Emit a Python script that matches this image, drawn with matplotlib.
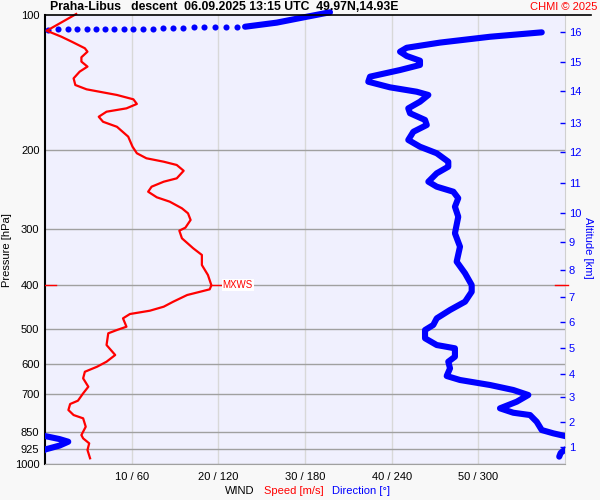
import numpy as np
import matplotlib
matplotlib.use('Agg')
import matplotlib.pyplot as plt
from matplotlib.ticker import NullLocator, FixedLocator
from matplotlib.lines import Line2D
import matplotlib.transforms as mtransforms

plt.rcParams['font.family'] = ['Liberation Sans', 'DejaVu Sans']

# wind speed profile (m/s) vs pressure (hPa)
spd_p = [99.5, 108.4, 111.8, 114.7, 118.6, 120.7, 124.2, 127.0, 130.3, 133.7,
         138.4, 143.2, 146.4, 150.7, 154.1, 157.8, 161.4, 164.2, 168.5, 172.9,
         177.4, 186.6, 196.5, 203.2, 208.5, 212.2, 215.8, 222.3, 231.1, 235.1,
         241.2, 247.5, 254.7, 260.5, 269.5, 276.5, 286.1, 297.6, 302.2, 314.3,
         330.8, 342.3, 360.4, 379.4, 400.0, 408.3, 413.4, 420.4, 435.0, 446.3,
         455.6, 463.4, 473.8, 494.6, 503.0, 511.6, 543.3, 571.8, 591.8, 607.3,
         623.1, 644.5, 672.9, 696.1, 722.8, 735.2, 758.2, 778.0, 791.2, 826.0,
         862.0, 876.8, 899.5, 930.8, 971.2]
spd_ms = [3.6, 0.2, 1.9, 3.1, 4.6, 4.9, 4.2, 4.2, 4.9, 4.0,
          3.3, 3.5, 4.8, 8.3, 10.2, 10.6, 9.4, 7.1, 6.2, 6.7,
          8.3, 9.6, 10.1, 10.6, 11.7, 13.7, 15.2, 16.0, 15.2, 13.7,
          12.3, 11.9, 12.9, 14.4, 15.8, 16.5, 16.8, 16.2, 15.5, 15.8,
          17.1, 18.1, 18.1, 18.8, 19.2, 19.0, 17.9, 16.4, 14.8, 13.7,
          12.1, 9.8, 9.0, 9.4, 8.3, 7.3, 7.1, 8.1, 7.1, 6.0,
          4.6, 4.4, 5.0, 4.4, 3.8, 2.9, 2.7, 3.3, 4.4, 4.7,
          4.2, 4.4, 5.1, 4.9, 5.2]

# wind direction (deg, unwrapped) vs pressure
dir_p = [109.3, 111.8, 115.2, 118.3, 120.7, 123.4, 126.4, 129.2, 132.6, 137.2,
         140.8, 144.9, 148.2, 150.7, 156.0, 161.4, 165.5, 171.3, 175.8, 182.0,
         189.8, 196.5, 203.2, 212.2, 217.7, 225.2, 235.1, 241.2, 247.5, 255.9,
         267.3, 281.4, 306.3, 328.1, 354.3, 376.1, 399.4, 413.4, 435.0, 453.9,
         473.8, 490.2, 503.0, 524.8, 543.3, 552.5, 576.8, 591.8, 612.2, 636.8,
         650.0, 666.9, 684.2, 702.0, 726.5, 751.6, 768.8, 778.0, 805.3, 840.2,
         854.5, 866.4, 880.0, 892.0, 910.0, 928.5, 945.0, 963.0]
dir_deg = [343.9, 308.1, 273.5, 250.4, 245.8, 250.4, 259.6, 259.6, 245.8, 225.0,
           223.8, 238.8, 257.3, 265.4, 259.6, 251.5, 252.7, 263.1, 264.3, 255.0,
           251.5, 259.6, 271.2, 279.2, 279.2, 271.2, 265.4, 271.2, 282.7, 286.1,
           283.8, 286.1, 283.8, 287.3, 285.0, 290.8, 295.4, 295.4, 290.8, 280.4,
           271.2, 268.8, 263.1, 263.1, 271.2, 283.8, 283.8, 279.2, 280.4, 278.1,
           287.3, 308.1, 324.2, 334.6, 326.6, 315.0, 324.2, 335.8, 340.4, 343.9,
           351.9, 360.0, 370.0, 376.1, 370.0, 360.0, 357.0, 356.0]

# sparse points near the tropopause (fast direction change)
dot_p = [107.8, 107.6, 107.6, 107.6, 107.6, 107.5, 107.5, 107.5, 107.4, 107.4,
         107.3, 107.2, 106.9, 106.8, 106.7, 106.6, 106.5, 106.4, 106.3, 106.2]
dot_deg = [2.3, 9.2, 15.7, 22.4, 28.9, 35.1, 41.5, 48.0, 54.5, 61.2,
           67.6, 74.5, 81.9, 88.8, 95.7, 103.2, 110.1, 117.7, 125.3, 132.7]
sweep_p = [106.2, 104.0, 100.9, 98.6]
sweep_deg = [138.5, 160.4, 181.2, 197.3]

# altitude scale (km) at pressure
alt_km = list(range(1, 17))
alt_p = [917, 806, 709, 630, 551, 483, 425, 370, 320, 276, 237, 202, 174, 148, 127, 109]

p_ticks = [100, 200, 300, 400, 500, 600, 700, 850, 925, 1000]
x_ticks = [60, 120, 180, 240, 300]
x_labels = ['10 / 60', '20 / 120', '30 / 180', '40 / 240', '50 / 300']

mxws_p = 400
mxws_speed = 19.2

BLUE = '#0000ff'
RED = '#ff0000'

fig = plt.figure(figsize=(6, 5), dpi=100)
fig.patch.set_facecolor('#f8f8f8')
ax = fig.add_axes([45 / 600, 36 / 500, 520 / 600, 449 / 500])
ax.set_facecolor('#f0f0fe')

ax.set_yscale('log')
ax.set_ylim(1000, 100)
ax.set_xlim(0, 360)
ax.yaxis.set_major_locator(FixedLocator(p_ticks))
ax.yaxis.set_minor_locator(NullLocator())
ax.set_yticklabels([str(p) for p in p_ticks])
ax.set_xticks(x_ticks)
ax.set_xticklabels(x_labels)
ax.tick_params(axis='both', length=0, labelsize=8)
ax.tick_params(axis='y', pad=4)
ax.tick_params(axis='x', pad=6)

# grid
for p in p_ticks[1:]:
    ax.axhline(p, color='#a0a0a0', lw=1, zorder=1)
for x in x_ticks:
    ax.axvline(x, color='#d8d8d8', lw=1, zorder=0.5)

ax.spines['top'].set_visible(False)
ax.spines['left'].set_color('black')
ax.spines['left'].set_linewidth(1.5)
ax.spines['right'].set_color('#d0d0d0')
ax.spines['bottom'].set_color('#a0a0a0')

# direction
d = np.array(dir_deg)
ax.plot(d, dir_p, color=BLUE, lw=4.4, solid_capstyle='round', solid_joinstyle='round', zorder=3)
ax.plot(d - 360, dir_p, color=BLUE, lw=4.4, solid_capstyle='round', solid_joinstyle='round', zorder=3)
ax.plot(dot_deg, dot_p, 'o', color=BLUE, ms=4.4, mec='none', zorder=3, clip_on=False)
ax.plot(sweep_deg, sweep_p, color=BLUE, lw=4.4, solid_capstyle='round', zorder=3, clip_on=False)

# speed
ax_spd = ax.twiny()
ax_spd.set_xlim(0, 60)
ax_spd.plot(spd_ms, spd_p, color=RED, lw=1.6, zorder=2, clip_on=False,
            solid_joinstyle='round')
ax_spd.tick_params(top=False, labeltop=False)
for s in ax_spd.spines.values():
    s.set_visible(False)
ax_spd.plot([mxws_speed, mxws_speed + 1.2], [mxws_p, mxws_p], color=RED, lw=1)
ax_spd.text(mxws_speed + 1.3, mxws_p, 'MXWS', color=RED, fontsize=7, va='center', ha='left',
            bbox=dict(facecolor='white', edgecolor='none', pad=0.8))
trans = mtransforms.blended_transform_factory(ax.transAxes, ax.transData)
ax.plot([0, 0.021], [mxws_p, mxws_p], color=RED, lw=1, transform=trans, zorder=4)
ax.plot([0.98, 1.005], [mxws_p, mxws_p], color=RED, lw=1, transform=trans, zorder=4, clip_on=False)

# altitude axis
ax_alt = ax.twinx()
ax_alt.set_yscale('log')
ax_alt.set_ylim(1000, 100)
ax_alt.yaxis.set_major_locator(FixedLocator(alt_p))
ax_alt.yaxis.set_minor_locator(NullLocator())
ax_alt.set_yticklabels([str(k) for k in alt_km])
ax_alt.tick_params(axis='y', direction='in', length=3.8, width=1, color=BLUE,
                   labelcolor=BLUE, labelsize=8, pad=2.6)
for s in ax_alt.spines.values():
    s.set_visible(False)

# header line and texts
fig.add_artist(Line2D([45 / 600, 591 / 600], [485 / 500, 485 / 500], color='black', lw=1.2))
fig.text(50 / 600, 493 / 500, 'Praha-Libus   descent  06.09.2025 13:15 UTC  49.97N,14.93E',
         fontsize=8.8, fontweight='bold', va='center', ha='left')
fig.text(597 / 600, 493 / 500, 'CHMI © 2025', color=RED, fontsize=8, va='center', ha='right')
fig.text(7 / 600, 250 / 500, 'Pressure [hPa]', rotation=90, fontsize=8, va='center', ha='center')
fig.text(588 / 600, 252 / 500, 'Altitude [km]', rotation=270, color=BLUE, fontsize=8,
         va='center', ha='center')
fig.text(225 / 600, 9 / 500, 'WIND', fontsize=8, va='center', ha='left')
fig.text(264 / 600, 9 / 500, 'Speed [m/s]', color=RED, fontsize=8, va='center', ha='left')
fig.text(332 / 600, 9 / 500, 'Direction [°]', color=BLUE, fontsize=8, va='center', ha='left')

fig.savefig('out.png', dpi=100, facecolor=fig.get_facecolor())
